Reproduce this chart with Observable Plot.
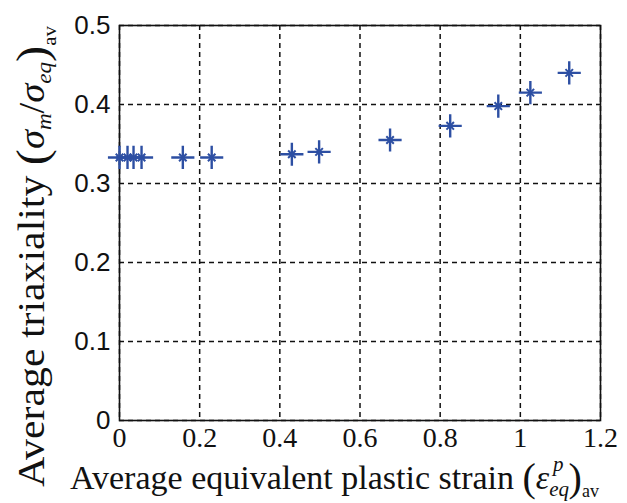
<!DOCTYPE html>
<html>
<head>
<meta charset="utf-8">
<script src="https://cdn.jsdelivr.net/npm/d3@7"></script>
<script src="https://cdn.jsdelivr.net/npm/@observablehq/plot@0.6"></script>
<style>
  html, body { margin: 0; padding: 0; background: #fff; }
  #chart svg { display: block; }
</style>
</head>
<body>
<div id="chart"></div>
<script>
// Data
const strain = [0.0, 0.02, 0.035, 0.055, 0.158, 0.23, 0.43, 0.498, 0.675, 0.825, 0.945, 1.025, 1.122];
const triaxiality = [0.333, 0.333, 0.333, 0.333, 0.333, 0.333, 0.337, 0.340, 0.355, 0.373, 0.398, 0.415, 0.440];
const xTicks = [0, 0.2, 0.4, 0.6, 0.8, 1, 1.2];
const xTickLabels = ["0", "0.2", "0.4", "0.6", "0.8", "1", "1.2"];
const yTicks = [0, 0.1, 0.2, 0.3, 0.4, 0.5];
const yTickLabels = ["0", "0.1", "0.2", "0.3", "0.4", "0.5"];

const data = strain.map((x, i) => ({x, y: triaxiality[i]}));
const markerColor = "#2d4fa3";

const plot = Plot.plot({
  width: 627,
  height: 503,
  marginLeft: 119,
  marginRight: 27,
  marginTop: 25,
  marginBottom: 83,
  style: {background: "white"},
  x: {domain: [0, 1.2]},
  y: {domain: [0, 0.5]},
  marks: [
    Plot.gridX(xTicks, {stroke: "#111", strokeOpacity: 1, strokeWidth: 1.5, strokeDasharray: "5,4"}),
    Plot.gridY(yTicks, {stroke: "#111", strokeOpacity: 1, strokeWidth: 1.5, strokeDasharray: "5,4"}),
    Plot.frame({stroke: "#111", strokeWidth: 1.6}),
    Plot.axisX(xTicks, {
      tickSize: 0, tickPadding: 7, label: null,
      tickFormat: (d, i) => xTickLabels[i],
      fontSize: 28, fontFamily: "Liberation Serif", fill: "#111"
    }),
    Plot.axisY(yTicks, {
      tickSize: 0, tickPadding: 9, label: null,
      tickFormat: (d, i) => yTickLabels[i],
      fontSize: 26, fontFamily: "Liberation Sans", fill: "#111"
    }),
    Plot.dot(data, {x: "x", y: "y", symbol: "plus", r: 7.5, stroke: markerColor, strokeWidth: 2.4}),
    Plot.dot(data, {x: "x", y: "y", symbol: "times", r: 3.5, stroke: markerColor, strokeWidth: 2})
  ]
});

document.getElementById("chart").appendChild(plot);

// Axis titles with math notation
const svg = d3.select(plot);
const serif = "Liberation Serif";

// X axis title
const xt = svg.append("text")
  .attr("x", 70).attr("y", 489).attr("text-anchor", "start")
  .attr("font-family", serif).attr("font-size", 34).attr("fill", "#111");
xt.append("tspan").text("Average equivalent plastic strain ");
xt.append("tspan").attr("font-size", 40).attr("dy", 2).text("(");
xt.append("tspan").attr("font-style", "italic").attr("font-size", 34).attr("dy", -2).text("ε");
xt.append("tspan").attr("font-style", "italic").attr("font-size", 21).attr("dy", 7).text("eq");
xt.append("tspan").attr("font-style", "italic").attr("font-size", 21).attr("dx", -16).attr("dy", -25).text("p");
xt.append("tspan").attr("font-size", 40).attr("dx", 5).attr("dy", 20).text(")");
xt.append("tspan").attr("font-size", 18).attr("dy", 6).text("av");

// Y axis title (rotated, slightly stretched along its length like the reference)
const yt = svg.append("text")
  .attr("transform", "translate(44,487) rotate(-90) scale(1.1,1)").attr("text-anchor", "start")
  .attr("font-family", serif).attr("font-size", 38).attr("fill", "#111");
yt.append("tspan").text("Average triaxiality ");
yt.append("tspan").attr("font-size", 44).attr("dy", 3).text("(");
yt.append("tspan").attr("font-style", "italic").attr("font-size", 35).attr("dy", -3).text("σ");
yt.append("tspan").attr("font-style", "italic").attr("font-size", 21).attr("dy", 7).text("m");
yt.append("tspan").attr("font-size", 35).attr("dy", -7).text("/");
yt.append("tspan").attr("font-style", "italic").attr("font-size", 35).text("σ");
yt.append("tspan").attr("font-style", "italic").attr("font-size", 21).attr("dy", 7).text("eq");
yt.append("tspan").attr("font-size", 44).attr("dy", -4).text(")");
yt.append("tspan").attr("font-size", 19).attr("dy", 9).text("av");
</script>
</body>
</html>
